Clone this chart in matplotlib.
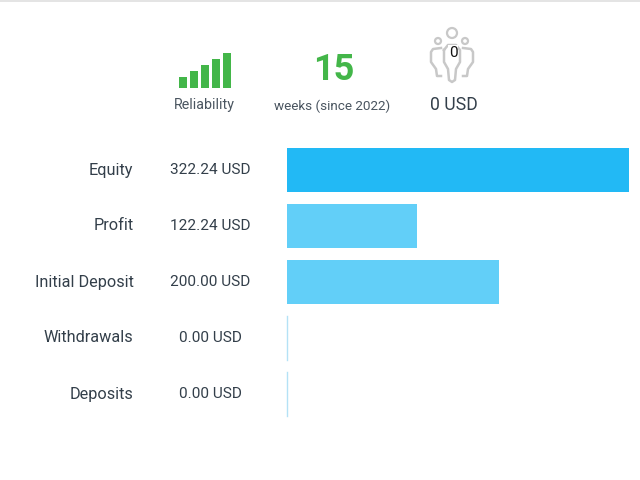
import matplotlib
matplotlib.use("Agg")
import matplotlib.pyplot as plt
from matplotlib.patches import Circle, Rectangle

plt.rcParams['font.family'] = ['Roboto', 'DejaVu Sans']

categories = ["Equity", "Profit", "Initial Deposit", "Withdrawals", "Deposits"]
values = [322.24, 122.24, 200.00, 0.00, 0.00]
value_labels = ["322.24 USD", "122.24 USD", "200.00 USD", "0.00 USD", "0.00 USD"]
reliability = [11, 17, 23, 29, 35]
weeks = "15"
weeks_label = "weeks (since 2022)"
subscribers = "0"
subscribers_usd = "0 USD"

W, H = 640, 480
fig = plt.figure(figsize=(6.4, 4.8), dpi=100, facecolor="white")

def axes_px(x0, y0, x1, y1):
    return fig.add_axes([x0 / W, 1 - y1 / H, (x1 - x0) / W, (y1 - y0) / H])

bg = axes_px(0, 0, W, H)
bg.set_xlim(0, W); bg.set_ylim(H, 0); bg.axis("off")
bg.add_patch(Rectangle((0, 0), W, 2, color="#e4e4e4", lw=0))

TXT = "#333f4a"

ax = axes_px(287, 142, 629, 422)
pos = list(range(len(categories)))
colors = ["#22b9f5"] + ["#62cff8"] * 4
ax.barh(pos, values, height=0.786, color=colors)
for p, v in zip(pos, values):
    if v == 0:
        ax.plot([0, 0], [p - 0.393, p + 0.393], color="#b4e2f6", lw=1.0, clip_on=False)
ax.set_xlim(0, 322.24)
ax.set_ylim(len(categories) - 0.5, -0.5)
ax.axis("off")
for p, c, lab in zip(pos, categories, value_labels):
    ypx = 142 + 56 * (p + 0.5)
    bg.text(133.5, ypx, c, ha="right", va="center", fontsize=11.7, color=TXT)
    bg.text(210.5, ypx, lab, ha="center", va="center", fontsize=11.1, color=TXT)

ar = axes_px(177.5, 53, 232.5, 88)
ar.bar(range(len(reliability)), reliability, width=0.8, color="#43b649")
ar.set_xlim(-0.5, len(reliability) - 0.5)
ar.set_ylim(0, 35)
ar.axis("off")
bg.text(204, 105, "Reliability", ha="center", va="center", fontsize=10.3, color="#4a5560")

bg.text(333.5, 70, weeks, ha="center", va="center", fontsize=26, fontweight="bold", color="#43b649")
bg.text(332.5, 106, weeks_label, ha="center", va="center", fontsize=9.7, color="#4a5560")

G = "#c8c8c8"
for cx, cy, r in [(452, 33, 5), (438, 41, 3), (465, 41, 3)]:
    bg.add_patch(Circle((cx, cy), r, fill=False, ec=G, lw=1.6))
centre = ([444, 444, 448, 449, 452, 455, 456, 460, 460, 456, 448, 444],
          [50, 62, 69, 80, 82, 80, 69, 62, 50, 45, 45, 50])
left = ([441, 433, 431, 431, 436, 437, 441],
        [48, 49, 52, 62, 69, 76, 76])
right = ([463, 471, 473, 473, 468, 467, 463],
         [48, 49, 52, 62, 69, 76, 76])
for xs, ys in (centre, left, right):
    bg.plot(xs, ys, color=G, lw=1.8, solid_joinstyle="round")
bg.text(453, 53, subscribers, ha="center", va="center", fontsize=11, color="#111111",
        bbox=dict(fc="white", ec="none", pad=0.4))
bg.text(453.5, 105, subscribers_usd, ha="center", va="center", fontsize=12.7, color=TXT)

fig.savefig("out.png", dpi=100)
